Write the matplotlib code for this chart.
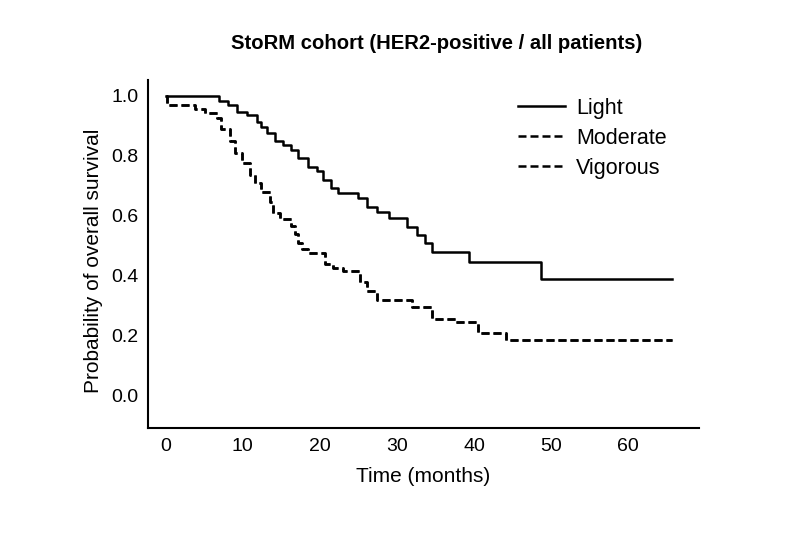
import matplotlib
matplotlib.use("Agg")
import matplotlib.pyplot as plt

plt.rcParams['font.family'] = ['Liberation Sans', 'DejaVu Sans']

# Kaplan-Meier steps: (time in months, survival after the drop)
light_t = [0, 6.9, 8.1, 9.2, 10.6, 11.8, 12.4, 13.1, 14.2, 15.2, 16.3, 17.2, 18.5,
           19.6, 20.4, 21.5, 22.4, 25.0, 26.1, 27.4, 28.9, 31.3, 32.6, 33.6, 34.5,
           39.3, 48.7, 65.7]
light_s = [1.0, 0.984, 0.970, 0.946, 0.935, 0.914, 0.895, 0.876, 0.848, 0.837, 0.82,
           0.792, 0.764, 0.748, 0.72, 0.692, 0.676, 0.659, 0.631, 0.614, 0.592, 0.564,
           0.537, 0.51, 0.48, 0.445, 0.39, 0.39]

moderate_t = [0, 0.1, 3.8, 5.1, 6.6, 7.2, 8.3, 9.0, 9.9, 10.9, 11.6, 12.3, 13.5, 13.9,
              14.8, 16.3, 16.8, 17.2, 17.7, 18.5, 20.6, 21.7, 23.0, 25.2, 26.1, 27.4,
              31.9, 34.5, 37.5, 40.5, 44.2, 65.7]
moderate_s = [1.0, 0.968, 0.957, 0.943, 0.927, 0.89, 0.85, 0.81, 0.775, 0.735, 0.71,
              0.68, 0.645, 0.61, 0.59, 0.565, 0.54, 0.51, 0.49, 0.475, 0.44, 0.425,
              0.415, 0.38, 0.35, 0.32, 0.295, 0.255, 0.245, 0.21, 0.187, 0.187]

# the Vigorous curve is not distinguishable in the figure; it lies on top of Moderate
vigorous_t = list(moderate_t)
vigorous_s = list(moderate_s)

fig = plt.figure(figsize=(8, 5.33), dpi=100)
ax = fig.add_axes([0.185, 0.197, 0.689, 0.653])

ax.step(light_t, light_s, where='post', color='black', lw=1.8, label='Light')
ax.step(moderate_t, moderate_s, where='post', color='black', lw=1.8,
        dashes=(3.2, 1.6), label='Moderate')
ax.step(vigorous_t, vigorous_s, where='post', color='black', lw=1.8,
        dashes=(3.2, 1.6), label='Vigorous')

ax.set_xlim(-2.3, 69.2)
ax.set_ylim(-0.107, 1.053)
ax.set_xticks([0, 10, 20, 30, 40, 50, 60])
ax.set_yticks([0.0, 0.2, 0.4, 0.6, 0.8, 1.0])
ax.set_yticklabels(['0.0', '0.2', '0.4', '0.6', '0.8', '1.0'])
ax.tick_params(length=0, labelsize=14, pad=7)
for s in ['top', 'right']:
    ax.spines[s].set_visible(False)
for s in ['left', 'bottom']:
    ax.spines[s].set_linewidth(1.5)

ax.set_xlabel('Time (months)', fontsize=15, labelpad=9)
ax.set_ylabel('Probability of overall survival', fontsize=15, labelpad=8)
ax.yaxis.set_label_coords(-0.082, 0.48)
fig.text(0.546, 0.919, 'StoRM cohort (HER2-positive / all patients)', fontsize=14.6,
         fontweight='bold', ha='center', va='center')

ax.legend(loc='upper left', bbox_to_anchor=(0.6475, 0.817),
          bbox_transform=fig.transFigure, frameon=False, borderpad=0,
          borderaxespad=0, fontsize=15.5, handlelength=2.2, handletextpad=0.5,
          labelspacing=0.42)

fig.savefig('out.png', dpi=100)
